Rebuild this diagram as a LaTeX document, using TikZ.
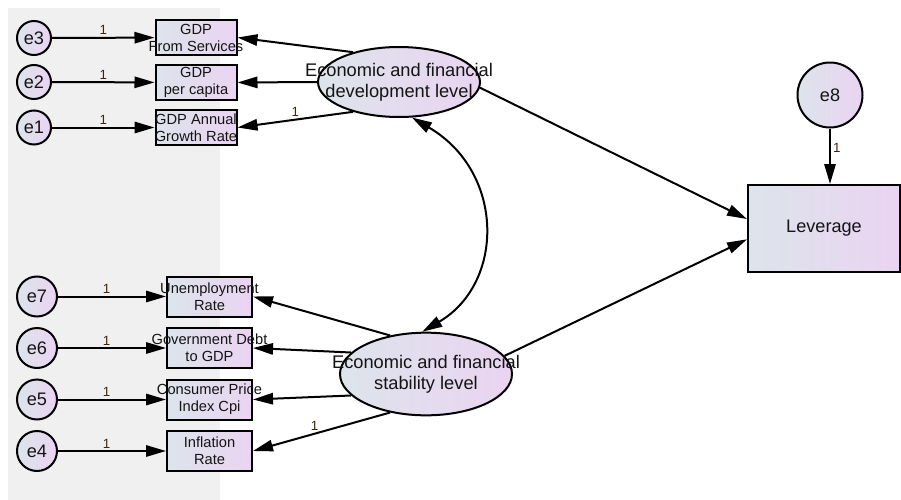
\documentclass[tikz,border=0pt]{standalone}
\usepackage{fontspec}
\setmainfont{Liberation Sans}
\usetikzlibrary{arrows.meta,shapes.geometric}
\definecolor{amosleft}{RGB}{221,228,236}
\definecolor{amosright}{RGB}{234,212,241}
\definecolor{panelgrey}{RGB}{240,240,240}
\definecolor{inktext}{RGB}{20,20,20}
\definecolor{weightbrown}{RGB}{60,40,15}

\begin{document}
\begin{tikzpicture}[
    x=0.75pt, y=-0.75pt,
    obs/.style={rectangle,draw,line width=1.5pt,left color=amosleft,right color=amosright,inner sep=0pt},
    obstop/.style={obs,minimum width=60.75pt,minimum height=26.25pt},
    obsbot/.style={obs,minimum width=63.75pt,minimum height=30pt},
    latent/.style={ellipse,draw,line width=1.5pt,left color=amosleft,right color=amosright,inner sep=0pt},
    err/.style={circle,draw,line width=1.5pt,left color=amosleft,right color=amosright,inner sep=0pt,
      font=\fontsize{13.6}{15}\selectfont,text=inktext},
    small/.style={font=\fontsize{11}{12.75}\selectfont,align=center,text=inktext,inner sep=0pt},
    big/.style={font=\fontsize{13.7}{15.5}\selectfont,align=center,text=inktext,inner sep=0pt},
    wt/.style={font=\fontsize{10}{11}\selectfont,text=weightbrown,inner sep=1.5pt},
    arrow/.style={-{Triangle[length=15pt,width=8.5pt]},line width=1.5pt},
    both/.style={{Triangle[length=15pt,width=8.5pt]}-{Triangle[length=15pt,width=8.5pt]},line width=1.5pt}
  ]
    \useasboundingbox (0,0) rectangle (901,500);
    \fill[panelgrey] (8,8) rectangle (220,500);

    % indicators of development
    \node[obstop,label={[small,name=b3t]center:GDP\\From Services}] (b3) at (196,37.5) {};
    \node[obstop,label={[small,name=b2t]center:GDP\\per capita}] (b2) at (196,82.5) {};
    \node[obstop,label={[small,name=b1t]center:GDP Annual\\Growth Rate}] (b1) at (196,127.5) {};
    \node[err,minimum size=25.5pt] (e3) at (34,38) {e3};
    \node[err,minimum size=25.5pt] (e2) at (34,82) {e2};
    \node[err,minimum size=25.5pt] (e1) at (34,127.5) {e1};

    % indicators of stability
    \node[obsbot,label={[small,name=b7t]center:Unemployment\\Rate}] (b7) at (209.5,296.5) {};
    \node[obsbot,label={[small,name=b6t]center:Government Debt\\to GDP}] (b6) at (209.5,348) {};
    \node[obsbot,label={[small,name=b5t]center:Consumer Price\\Index Cpi}] (b5) at (209.5,399.5) {};
    \node[obsbot,label={[small,name=b4t]center:Inflation\\Rate}] (b4) at (209.5,451) {};
    \node[err,minimum size=30pt] (e7) at (37,296.5) {e7};
    \node[err,minimum size=30pt] (e6) at (37,348) {e6};
    \node[err,minimum size=30pt] (e5) at (37,399.5) {e5};
    \node[err,minimum size=30pt] (e4) at (37,451) {e4};

    % latent factors and outcome
    \node[latent,minimum width=121.5pt,minimum height=52.5pt,
      label={[big,name=devt]center:Economic and financial\\development level}] (dev) at (399,82) {};
    \node[latent,minimum width=129pt,minimum height=62pt,
      label={[big,name=stabt]center:Economic and financial\\stability level}] (stab) at (426,374) {};
    \node[obs,minimum width=114pt,minimum height=65.25pt,font=\fontsize{13.6}{15}\selectfont,text=inktext] (lev) at (824,228.5) {Leverage};
    \node[err,minimum size=48.75pt] (e8) at (830,95) {e8};

    % error paths
    \draw[arrow] (e3) -- node[above,wt] {1} (b3);
    \draw[arrow] (e2) -- node[above,wt] {1} (b2);
    \draw[arrow] (e1) -- node[above,wt] {1} (b1);
    \draw[arrow] (e7) -- node[above,wt,pos=0.45] {1} (b7);
    \draw[arrow] (e6) -- node[above,wt,pos=0.45] {1} (b6);
    \draw[arrow] (e5) -- node[above,wt,pos=0.45] {1} (b5);
    \draw[arrow] (e4) -- node[above,wt,pos=0.45] {1} (b4);
    \draw[arrow] (e8) -- node[right,wt,pos=0.35] {1} (e8 |- lev.north);

    % loadings
    \draw[arrow] (dev.147) -- (b3.east);
    \draw[arrow] (dev.west) -- (b2.east);
    \draw[arrow] (dev.213) -- node[above,wt,pos=0.5] {1} (b1.east);
    \draw[arrow] (stab.133) -- (b7.east);
    \draw[arrow] (stab.164) -- (b6.east);
    \draw[arrow] (stab.196) -- (b5.east);
    \draw[arrow] (stab.227) -- node[above,wt,pos=0.55] {1} (b4.east);

    % structural paths
    \draw[arrow] (dev.-4) -- (lev.173.6);
    \draw[arrow] (stab.13) -- (lev.188.6);
    \draw[both] (dev.290) .. controls (505,172) and (505,283) .. (stab.95);
  \end{tikzpicture}
\end{document}
